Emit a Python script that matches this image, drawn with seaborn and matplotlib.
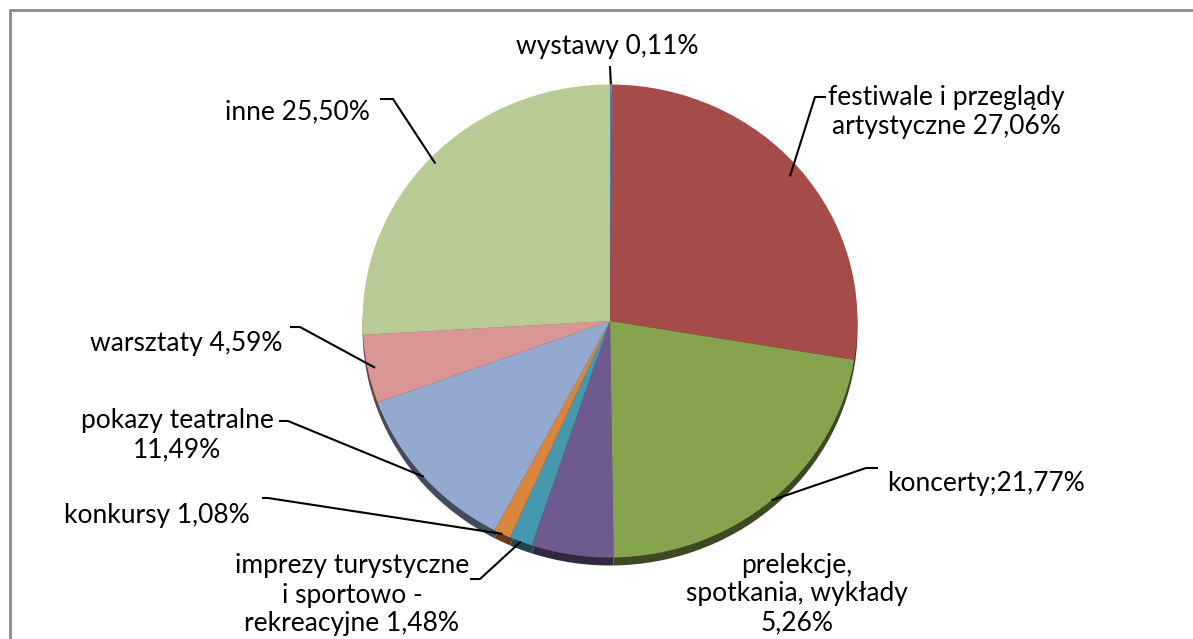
import numpy as np
import seaborn as sns
import matplotlib
matplotlib.use('Agg')
import matplotlib.pyplot as plt
from matplotlib.colors import to_rgb

# data (clockwise from the top)
labels = ['wystawy 0,11%',
          'festiwale i przeglądy\nartystyczne 27,06%',
          'koncerty;21,77%',
          'prelekcje,\nspotkania, wykłady\n5,26%',
          'imprezy turystyczne\ni sportowo -\nrekreacyjne 1,48%',
          'konkursy 1,08%',
          'pokazy teatralne\n11,49%',
          'warsztaty 4,59%',
          'inne 25,50%']
values = [0.11, 27.06, 21.77, 5.26, 1.48, 1.08, 11.49, 4.59, 25.50]
colors = ['#4F81BD', '#A54B49', '#86A34E', '#6E5A8E', '#4598AE',
          '#DB843D', '#93A9CF', '#D99694', '#B9CB95']

sns.set_theme(style='white')
plt.rcParams['font.family'] = ['Lato', 'DejaVu Sans']

W, H = 1193, 639
cx, cy, rx, ry = 610, 321, 247.5, 236.5   # pie centre / radii in pixels
k = rx / ry

fig = plt.figure(figsize=(W / 100, H / 100), dpi=100)
ax = fig.add_axes([0, 0, 1, 1])


def to(px, py):
    return px, (H - py) * k


# shadow pie then main pie
dark = [tuple(c * 0.45 for c in to_rgb(col)) for col in colors]
wp = dict(linewidth=0, edgecolor='none')
ax.pie(values, colors=dark, startangle=90, counterclock=False,
       center=to(cx, cy + 8), radius=rx, wedgeprops=wp)
wedges, _ = ax.pie(values, colors=colors, startangle=90, counterclock=False,
                   center=to(cx, cy), radius=rx, wedgeprops=wp)
ax.set_xlim(0, W)
ax.set_ylim(0, H * k)
ax.set_aspect('auto')
ax.set_axis_off()

# label layout: text position, alignment, elbow points, radius fraction of anchor
layout = [
    ((607, 47), 'center', [(610, 66)], 1.0),
    ((946, 112), 'center', [(826, 97), (815, 97)], 0.95),
    ((887, 484), 'left', [(878, 468), (866, 468)], 1.0),
    ((797, 594), 'center', None, 0),
    ((352, 595), 'center', [(470, 579), (480, 579)], 1.0),
    ((250, 516), 'right', [(262, 498), (268, 498)], 1.0),
    ((177, 435), 'center', [(279, 421), (288, 421)], 1.0),
    ((282, 344), 'right', [(290, 327), (300, 327)], 0.97),
    ((370, 112), 'right', [(380, 99), (393, 99)], 0.97),
]

for w, lab, (tpos, ha, elbow, f) in zip(wedges, labels, layout):
    ax.text(*to(*tpos), lab, ha=ha, va='center', fontsize=19,
            color='black', linespacing=1.2)
    if elbow is None:
        continue
    mid = np.deg2rad((w.theta1 + w.theta2) / 2)
    ax_px = cx + rx * f * np.cos(mid)
    ay_px = cy - ry * f * np.sin(mid)
    pts = [to(*p) for p in elbow] + [to(ax_px, ay_px)]
    xs, ys = zip(*pts)
    ax.plot(xs, ys, color='black', lw=1.5, solid_capstyle='butt')

# frame lines of the original chart area
ax.plot([10, W], [(H - 9.5) * k] * 2, color='#898989', lw=2)
ax.plot([10, 10], [0, (H - 9.5) * k], color='#898989', lw=2)

fig.savefig('out.png', dpi=100)
